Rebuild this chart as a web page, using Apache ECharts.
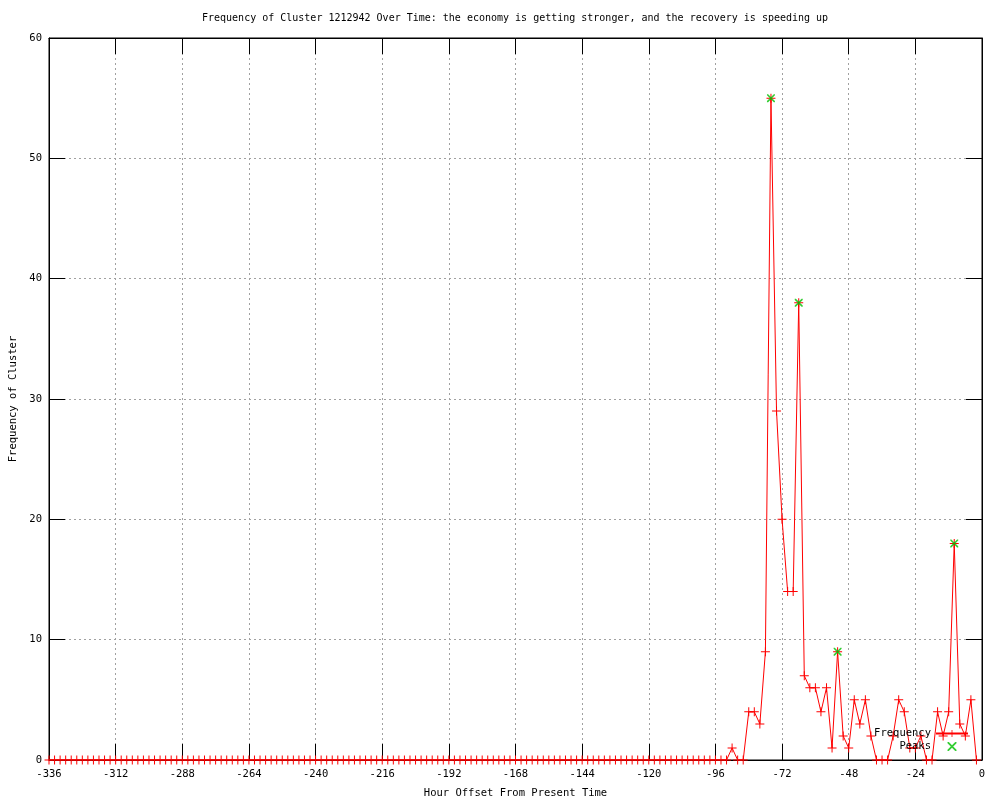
<!DOCTYPE html>
<html>
<head>
<meta charset="utf-8">
<script src="https://cdn.jsdelivr.net/npm/echarts@6/dist/echarts.min.js"></script>
<style>html,body{margin:0;padding:0;background:#fff}#c{width:1000px;height:800px}</style>
</head>
<body>
<div id="c"></div>
<script>
// Hour offsets (x) of each sample
const hours = [-336,-334,-332,-330,-328,-326,-324,-322,-320,-318,-316,-314,-312,-310,-308,-306,-304,-302,-300,-298,
-296,-294,-292,-290,-288,-286,-284,-282,-280,-278,-276,-274,-272,-270,-268,-266,-264,-262,-260,-258,
-256,-254,-252,-250,-248,-246,-244,-242,-240,-238,-236,-234,-232,-230,-228,-226,-224,-222,-220,-218,
-216,-214,-212,-210,-208,-206,-204,-202,-200,-198,-196,-194,-192,-190,-188,-186,-184,-182,-180,-178,
-176,-174,-172,-170,-168,-166,-164,-162,-160,-158,-156,-154,-152,-150,-148,-146,-144,-142,-140,-138,
-136,-134,-132,-130,-128,-126,-124,-122,-120,-118,-116,-114,-112,-110,-108,-106,-104,-102,-100,-98,
-96,-94,-92,-90,-88,-86,-84,-82,-80,-78,-76,-74,-72,-70,-68,-66,-64,-62,-60,-58,
-56,-54,-52,-50,-48,-46,-44,-42,-40,-38,-36,-34,-32,-30,-28,-26,-24,-22,-20,-18,
-16,-14,-12,-10,-8,-6,-4,-2];
// Frequency values
const frequency = [0,0,0,0,0,0,0,0,0,0,0,0,0,0,0,0,0,0,0,0,
0,0,0,0,0,0,0,0,0,0,0,0,0,0,0,0,0,0,0,0,
0,0,0,0,0,0,0,0,0,0,0,0,0,0,0,0,0,0,0,0,
0,0,0,0,0,0,0,0,0,0,0,0,0,0,0,0,0,0,0,0,
0,0,0,0,0,0,0,0,0,0,0,0,0,0,0,0,0,0,0,0,
0,0,0,0,0,0,0,0,0,0,0,0,0,0,0,0,0,0,0,0,
0,0,0,1,0,0,4,4,3,9,55,29,20,14,14,38,7,6,6,4,
6,1,9,2,1,5,3,5,2,0,0,0,2,5,4,1,1,2,0,0,
4,2,4,18,3,2,5,0];
// Peaks
const peakHours = [-76,-66,-52,-10];
const peakValues = [55,38,9,18];
// Axis ticks
const xTicks = [-336,-312,-288,-264,-240,-216,-192,-168,-144,-120,-96,-72,-48,-24,0];
const yTicks = [0,10,20,30,40,50,60];

const FONT = 'DejaVu Sans Mono';
const FS = 10.5;
const PLUS = 'path://M4,0H5V4H9V5H5V9H4V5H0V4H4Z';
const CROSS = 'path://M0,0H1.3L9,7.7V9H7.7L0,1.3Z M7.7,0H9V1.3L1.3,9H0V7.7Z';

const freqData = hours.map((h, i) => [h, frequency[i]]);
const peakData = peakHours.map((h, i) => [h, peakValues[i]]);

const chart = echarts.init(document.getElementById('c'), null, {renderer: 'canvas'});
const gridStyle = {show: true, lineStyle: {color: '#a0a0a0', width: 1, type: [2, 3]}};
const lblStyle = {color: '#000', fontFamily: FONT, fontSize: FS};
const axLine = {show: true, onZero: false, lineStyle: {color: '#000'}};
const axTick = {show: true, inside: true, length: 16, lineStyle: {color: '#000'}};
chart.setOption({
  animation: false,
  backgroundColor: '#fff',
  title: {
    text: 'Frequency of Cluster 1212942 Over Time: the economy is getting stronger, and the recovery is speeding up',
    left: 202, top: 13, padding: 0,
    textStyle: {color: '#000', fontFamily: FONT, fontSize: 10, fontWeight: 'normal'}
  },
  grid: {left: 49, right: 18, top: 38, bottom: 40, show: true, borderColor: '#000', borderWidth: 1,
         containLabel: false, outerBoundsMode: 'none'},
  legend: {
    data: ['Frequency', 'Peaks'],
    orient: 'vertical', right: 31, top: 727, align: 'right', padding: 0,
    itemWidth: 32, itemHeight: 9, itemGap: 0,
    textStyle: {color: '#000', fontFamily: FONT, fontSize: FS, lineHeight: 13},
    selectedMode: false
  },
  xAxis: [{
    type: 'value', min: -336, max: 0, interval: 24,
    name: 'Hour Offset From Present Time', nameLocation: 'middle', nameGap: 28,
    nameTextStyle: lblStyle,
    axisLine: axLine, axisTick: axTick,
    axisLabel: Object.assign({margin: 9, formatter: v => xTicks.includes(v) ? String(v) : ''}, lblStyle),
    splitLine: gridStyle
  }, {
    type: 'value', min: -336, max: 0, interval: 24, position: 'top',
    axisLine: axLine, axisTick: axTick,
    axisLabel: {show: false}, splitLine: {show: false}
  }],
  yAxis: [{
    type: 'value', min: 0, max: 60, interval: 10, position: 'left',
    name: 'Frequency of Cluster', nameLocation: 'middle', nameGap: 30,
    nameTextStyle: lblStyle,
    axisLine: axLine, axisTick: axTick,
    axisLabel: Object.assign({margin: 7, formatter: v => yTicks.includes(v) ? String(v) : ''}, lblStyle),
    splitLine: gridStyle
  }, {
    type: 'value', min: 0, max: 60, interval: 10, position: 'right',
    axisLine: axLine, axisTick: axTick,
    axisLabel: {show: false}, splitLine: {show: false}
  }],
  series: [{
    name: 'Frequency', type: 'line', data: freqData,
    xAxisIndex: 0, yAxisIndex: 0,
    symbol: PLUS, symbolSize: 9, showAllSymbol: true,
    lineStyle: {color: '#ff0000', width: 1},
    itemStyle: {color: '#ff0000', borderWidth: 0},
    z: 3
  }, {
    name: 'Peaks', type: 'scatter', data: peakData,
    xAxisIndex: 0, yAxisIndex: 0,
    symbol: CROSS, symbolSize: 8,
    itemStyle: {color: '#00c000', borderWidth: 0},
    z: 4
  }]
});
</script>
</body>
</html>
